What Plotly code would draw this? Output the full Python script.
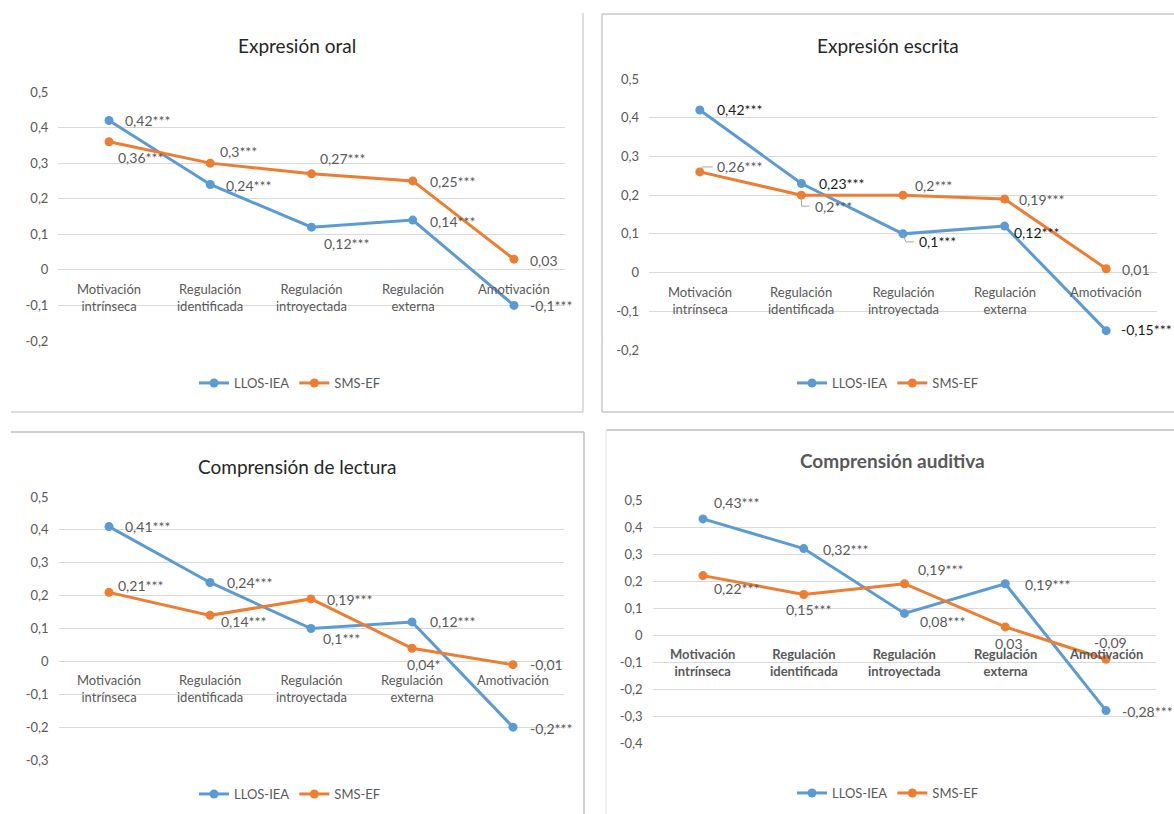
import plotly.graph_objects as go

W, H = 1174, 814

categories = ["Motivación intrínseca", "Regulación identificada",
              "Regulación introyectada", "Regulación externa", "Amotivación"]
series_names = ["LLOS-IEA", "SMS-EF"]

titles = ["Expresión oral", "Expresión escrita",
          "Comprensión de lectura", "Comprensión auditiva"]

# correlation values per panel
oral_llos = [0.42, 0.24, 0.12, 0.14, -0.10]
oral_sms = [0.36, 0.30, 0.27, 0.25, 0.03]
escrita_llos = [0.42, 0.23, 0.10, 0.12, -0.15]
escrita_sms = [0.26, 0.20, 0.20, 0.19, 0.01]
lectura_llos = [0.41, 0.24, 0.10, 0.12, -0.20]
lectura_sms = [0.21, 0.14, 0.19, 0.04, -0.01]
auditiva_llos = [0.43, 0.32, 0.08, 0.19, -0.28]
auditiva_sms = [0.22, 0.15, 0.19, 0.03, -0.09]

# significance marks
oral_llos_sig = ["***", "***", "***", "***", "***"]
oral_sms_sig = ["***", "***", "***", "***", ""]
escrita_llos_sig = ["***", "***", "***", "***", "***"]
escrita_sms_sig = ["***", "***", "***", "***", ""]
lectura_llos_sig = ["***", "***", "***", "***", "***"]
lectura_sms_sig = ["***", "***", "***", "*", ""]
auditiva_llos_sig = ["***", "***", "***", "***", "***"]
auditiva_sms_sig = ["***", "***", "***", "", ""]

# y tick values per panel
oral_ticks = [0.5, 0.4, 0.3, 0.2, 0.1, 0, -0.1, -0.2]
escrita_ticks = [0.5, 0.4, 0.3, 0.2, 0.1, 0, -0.1, -0.2]
lectura_ticks = [0.5, 0.4, 0.3, 0.2, 0.1, 0, -0.1, -0.2, -0.3]
auditiva_ticks = [0.5, 0.4, 0.3, 0.2, 0.1, 0, -0.1, -0.2, -0.3, -0.4]

BLUE = "#5b9bd5"
ORANGE = "#ed7d31"
GRID = "#d9d9d9"
TXT = "#595959"
FONT = "Lato"


def fmt(v):
    s = f"{round(v, 2):g}"
    return s.replace(".", ",")


def px_x(p):
    return p / W


def px_y(p):
    return 1 - p / H


# panel geometry in pixels: plot-area left/right, top/bottom
panels = [
    dict(title=titles[0], data=[oral_llos, oral_sms], sig=[oral_llos_sig, oral_sms_sig],
         ticks=oral_ticks, x=(58.4, 564.6), y=(92, 341), title_xy=(297, 45),
         legend_xy=(290, 383), bold=False,
         offs=[[(14, 0), (14, 1), (10, 16), (15, 1), (14, 0)],
               [(7, 16), (8, -12), (6, -15), (15, 1), (14, 1)]],
         dark=[[False] * 5, [False] * 5]),
    dict(title=titles[1], data=[escrita_llos, escrita_sms], sig=[escrita_llos_sig, escrita_sms_sig],
         ticks=escrita_ticks, x=(649, 1157), y=(79, 350), title_xy=(888, 45),
         legend_xy=(888, 383), bold=False,
         offs=[[(15, 0), (16, 0), (14, 8), (7, 6), (13, -1)],
               [(15, -5), (12, 11), (10, -10), (12, 0), (14, 1)]],
         dark=[[True] * 5, [False] * 5]),
    dict(title=titles[2], data=[lectura_llos, lectura_sms], sig=[lectura_llos_sig, lectura_sms_sig],
         ticks=lectura_ticks, x=(58.5, 563.5), y=(497, 760), title_xy=(297, 466),
         legend_xy=(290, 794), bold=False,
         offs=[[(14, 0), (15, 0), (10, 10), (16, 0), (15, 1)],
               [(7, -7), (9, 6), (14, 1), (-7, 16), (15, 0)]],
         dark=[[False] * 5, [False] * 5]),
    dict(title=titles[3], data=[auditiva_llos, auditiva_sms], sig=[auditiva_llos_sig, auditiva_sms_sig],
         ticks=auditiva_ticks, x=(652.6, 1156.4), y=(500, 743), title_xy=(892, 460),
         legend_xy=(888, 793), bold=True,
         offs=[[(9, -16), (17, 1), (13, 8), (18, 1), (14, 1)],
               [(9, 13), (-20, 15), (11, -14), (-12, 17), (-14, -17)]],
         dark=[[False] * 5, [False] * 5]),
]

fig = go.Figure()
annotations = []
shapes = []
layout = {}

for k, p in enumerate(panels):
    sfx = "" if k == 0 else str(k + 1)
    xa, ya = "x" + sfx, "y" + sfx
    leg = "legend" + sfx
    ymin, ymax = min(p["ticks"]), max(p["ticks"])

    layout["xaxis" + sfx] = dict(
        domain=[px_x(p["x"][0]), px_x(p["x"][1])], anchor=ya, type="category",
        categoryarray=categories, range=[-0.5, 4.5], showticklabels=False,
        showgrid=False, zeroline=False, showline=False, ticks="", fixedrange=True,
        automargin=False)
    layout["yaxis" + sfx] = dict(
        domain=[px_y(p["y"][1]), px_y(p["y"][0])], anchor=xa, range=[ymin, ymax],
        tickvals=p["ticks"], ticktext=[fmt(t) for t in p["ticks"]],
        showgrid=True, gridcolor=GRID, gridwidth=1, zeroline=False, showline=False,
        ticks="", ticklabelstandoff=9, automargin=False,
        tickfont=dict(family=FONT, size=13, color=TXT))
    layout[leg] = dict(
        x=px_x(p["legend_xy"][0]), y=px_y(p["legend_xy"][1]), xanchor="center", yanchor="middle",
        orientation="h", bgcolor="rgba(0,0,0,0)", font=dict(family=FONT, size=13, color=TXT),
        itemwidth=30, tracegroupgap=0)

    for s, (vals, color) in enumerate(zip(p["data"], [BLUE, ORANGE])):
        fig.add_trace(go.Scatter(
            x=categories, y=vals, mode="lines+markers", name=series_names[s],
            line=dict(color=color, width=3), marker=dict(color=color, size=9),
            xaxis=xa, yaxis=ya, legend=leg, cliponaxis=False, hoverinfo="skip"))
        for i, v in enumerate(vals):
            dx, dy = p["offs"][s][i]
            annotations.append(dict(
                x=categories[i], y=v, xref=xa, yref=ya, text=fmt(v) + p["sig"][s][i],
                showarrow=False, xanchor="left", yanchor="middle",
                xshift=dx, yshift=-dy,
                font=dict(family=FONT, size=14,
                          color="#1a1a1a" if p["dark"][s][i] else TXT)))

    # category labels along the zero line
    for c in categories:
        annotations.append(dict(
            x=c, y=0, xref=xa, yref=ya, text=c.replace(" ", "<br>"), showarrow=False,
            xanchor="center", yanchor="top", yshift=-9,
            font=dict(family=FONT, size=13, color=TXT,
                      weight="bold" if p["bold"] else "normal")))

    # panel title
    annotations.append(dict(
        x=px_x(p["title_xy"][0]), y=px_y(p["title_xy"][1]), xref="paper", yref="paper",
        text=p["title"], showarrow=False, xanchor="center", yanchor="middle",
        font=dict(family=FONT, size=19, color=TXT if p["bold"] else "#262626",
                  weight="bold" if p["bold"] else "normal")))

# leader lines for the offset labels in the "Expresión escrita" panel
leaders = [
    (categories[0], escrita_sms[0], [(-1, 2), (3, 5), (13, 5)]),
    (categories[1], escrita_sms[1], [(0, -1), (0, -11), (8, -11)]),
    (categories[2], escrita_llos[2], [(0, -1), (3, -8), (11, -8)]),
]
for cat, val, pts in leaders:
    for (ax0, ay0), (ax1, ay1) in zip(pts[:-1], pts[1:]):
        shapes.append(dict(
            type="line", xref="x2", yref="y2", xsizemode="pixel", ysizemode="pixel",
            xanchor=cat, yanchor=val, x0=ax0, y0=ay0, x1=ax1, y1=ay1,
            line=dict(color="#a6a6a6", width=1)))

# chart frames
def frame_line(x0, y0, x1, y1, color):
    shapes.append(dict(type="line", xref="paper", yref="paper",
                       x0=px_x(x0), y0=px_y(y0), x1=px_x(x1), y1=px_y(y1),
                       line=dict(color=color, width=1.5)))

frame_line(583, 13, 583, 412, "#d4d4d4")
frame_line(11, 412, 583, 412, "#d4d4d4")
frame_line(602, 14, 1174, 14, "#c8c8c8")
frame_line(602, 14, 602, 412, "#c8c8c8")
frame_line(602, 412, 1174, 412, "#c8c8c8")
frame_line(11, 432, 584, 432, "#bfbfbf")
frame_line(584, 432, 584, 814, "#bfbfbf")
frame_line(606, 430, 1174, 430, "#bfbfbf")
frame_line(606, 430, 606, 814, "#ececec")

fig.update_layout(
    width=W, height=H, margin=dict(l=0, r=0, t=0, b=0, autoexpand=False),
    paper_bgcolor="white", plot_bgcolor="white",
    font=dict(family=FONT, size=13, color=TXT),
    annotations=annotations, shapes=shapes, **layout)

fig.write_html("out.html")
